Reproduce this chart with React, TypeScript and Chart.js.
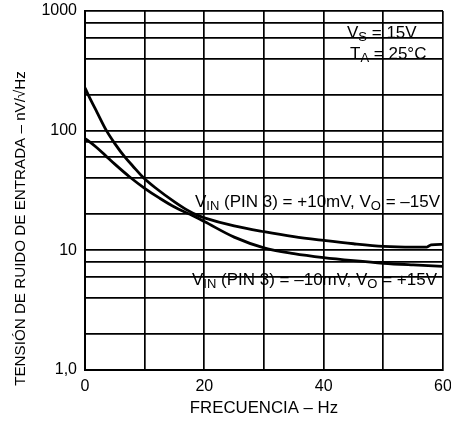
import React, { useEffect, useRef } from 'react';
import { Chart, registerables } from 'chart.js';
Chart.register(...registerables);

// Curve 1: VIN (PIN 3) = +10mV, VO = -15V
const freqA = [0, 1, 2, 3.6, 5, 6.7, 8, 9.9, 12, 15, 17, 19, 20, 25, 30, 35, 40, 45, 50, 55, 57.3, 58, 60];
const noiseA = [228, 179, 143, 100, 78, 60, 50.7, 40, 32.7, 25.4, 21.9, 19.5, 18.7, 16.0, 14.3, 13.0, 12.1, 11.35, 10.8, 10.65, 10.65, 11.1, 11.2];
// Curve 2: VIN (PIN 3) = -10mV, VO = +15V
const freqB = [0, 1, 2, 3.35, 5, 7.5, 10, 12.5, 15, 17.6, 20, 25, 30, 35, 40, 45, 50, 55, 60];
const noiseB = [86, 79, 72, 62.5, 52.5, 41, 33, 27.3, 23, 20, 17.4, 12.9, 10.5, 9.4, 8.7, 8.2, 7.8, 7.55, 7.35];

const xGrid = [0, 10, 20, 30, 40, 50, 60];
const xLabels = ['0', '', '20', '', '40', '', '60'];
const yGrid = [1, 2, 4, 6, 8, 10, 20, 40, 60, 80, 100, 200, 400, 600, 800, 1000];
const yLabeledValues = [1, 10, 100, 1000];
const yLabelTexts = ['1,0', '10', '100', '1000'];

const xTitle = 'FRECUENCIA – Hz';
const yTitle = 'TENSIÓN DE RUIDO DE ENTRADA – nV/√Hz';

type Run = [string, boolean];
const annVs: Run[] = [['V', false], ['S', true], [' = 15V', false]];
const annTa: Run[] = [['T', false], ['A', true], [' = 25°C', false]];
const annA: Run[] = [['V', false], ['IN', true], [' (PIN 3) = +10mV, V', false], ['O', true], [' = –15V', false]];
const annB: Run[] = [['V', false], ['IN', true], [' (PIN 3) = –10mV, V', false], ['O', true], [' = +15V', false]];

const FAMILY = "'Liberation Sans', Arial, sans-serif";

function drawRuns(ctx: CanvasRenderingContext2D, runs: Run[], x: number, y: number, align: 'left' | 'right', size: number) {
  const main = `${size}px ${FAMILY}`;
  const sub = `${Math.round(size * 0.76)}px ${FAMILY}`;
  let total = 0;
  for (const [t, s] of runs) {
    ctx.font = s ? sub : main;
    total += ctx.measureText(t).width;
  }
  let cx = align === 'left' ? x : x - total;
  ctx.textAlign = 'left';
  ctx.textBaseline = 'middle';
  for (const [t, s] of runs) {
    ctx.font = s ? sub : main;
    ctx.fillText(t, cx, s ? y + 4 : y);
    cx += ctx.measureText(t).width;
  }
}

const annotationPlugin = {
  id: 'annotationText',
  afterDatasetsDraw(chart: any) {
    const { ctx, chartArea } = chart;
    const { left, right, top, bottom } = chartArea;
    ctx.save();
    ctx.fillStyle = '#000';
    drawRuns(ctx, annVs, right - 96, top + 22, 'left', 17);
    drawRuns(ctx, annTa, right - 93, top + 43, 'left', 17);
    drawRuns(ctx, annA, right - 3, top + 191, 'right', 17);
    drawRuns(ctx, annB, right - 6, top + 269, 'right', 17);
    // y-axis title
    ctx.translate(left - 64, (top + bottom) / 2 + 38);
    ctx.rotate(-Math.PI / 2);
    ctx.font = `15.2px ${FAMILY}`;
    ctx.textAlign = 'center';
    ctx.textBaseline = 'middle';
    ctx.fillText(yTitle, 0, 0);
    ctx.restore();
  },
};

export default function App() {
  const ref = useRef<HTMLCanvasElement | null>(null);
  useEffect(() => {
    if (!ref.current) return;
    Chart.defaults.font.family = FAMILY;
    Chart.defaults.color = '#000';
    const chart = new Chart(ref.current, {
      type: 'line',
      data: {
        datasets: [
          {
            label: 'VIN (PIN 3) = +10mV, VO = -15V',
            data: freqA.map((f, i) => ({ x: f, y: noiseA[i] })),
            borderColor: '#000',
            borderWidth: 2.8,
            pointRadius: 0,
            cubicInterpolationMode: 'monotone',
            fill: false,
          },
          {
            label: 'VIN (PIN 3) = -10mV, VO = +15V',
            data: freqB.map((f, i) => ({ x: f, y: noiseB[i] })),
            borderColor: '#000',
            borderWidth: 2.8,
            pointRadius: 0,
            cubicInterpolationMode: 'monotone',
            fill: false,
          },
        ],
      },
      options: {
        animation: false,
        responsive: false,
        events: [],
        layout: { padding: { left: 0, right: 8, top: 11, bottom: 0 } },
        plugins: { legend: { display: false }, tooltip: { enabled: false } },
        scales: {
          x: {
            type: 'linear',
            min: 0,
            max: 60,
            afterBuildTicks: (s: any) => {
              s.ticks = xGrid.map((v) => ({ value: v }));
            },
            afterFit: (s: any) => {
              s.height = 55;
              s.paddingLeft = 0;
              s.paddingRight = 0;
            },
            ticks: {
              autoSkip: false,
              maxRotation: 0,
              padding: 7,
              font: { size: 16 },
              color: '#000',
              callback: (v: any) => {
                const i = xGrid.indexOf(Number(v));
                return i >= 0 ? xLabels[i] : '';
              },
            },
            grid: { color: '#000', lineWidth: 1.7, drawTicks: false },
            border: { color: '#000', width: 2 },
            title: { display: true, text: xTitle, font: { size: 16.8 }, color: '#000', padding: { top: 0, bottom: 7 } },
          },
          y: {
            type: 'logarithmic',
            min: 1,
            max: 1000,
            afterBuildTicks: (s: any) => {
              s.ticks = yGrid.map((v) => ({ value: v }));
            },
            afterFit: (s: any) => {
              s.width = 85;
              s.paddingTop = 0;
              s.paddingBottom = 0;
            },
            ticks: {
              autoSkip: false,
              padding: 8,
              font: { size: 16 },
              color: '#000',
              callback: (v: any) => {
                const i = yLabeledValues.indexOf(Number(v));
                return i >= 0 ? yLabelTexts[i] : '';
              },
            },
            grid: { color: '#000', lineWidth: 1.7, drawTicks: false },
            border: { color: '#000', width: 2 },
          },
        },
      },
      plugins: [annotationPlugin],
    } as any);
    return () => chart.destroy();
  }, []);
  return (
    <div style={{ position: 'absolute', left: 0, top: 0, width: 451, height: 425, overflow: 'hidden', background: '#fff' }}>
      <canvas ref={ref} width={451} height={425} style={{ display: 'block' }} />
    </div>
  );
}
